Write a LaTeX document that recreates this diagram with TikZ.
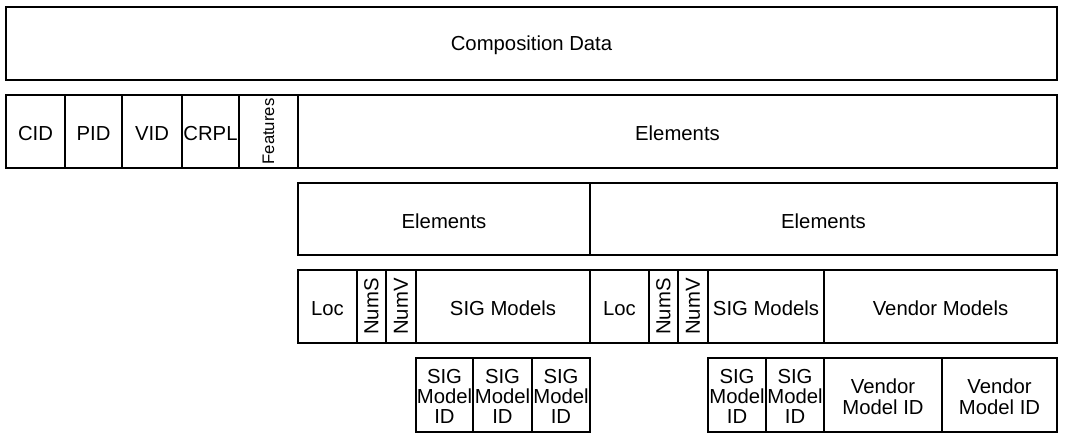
\documentclass[tikz,border=0pt]{standalone}
\usepackage{fontspec}
\setmainfont{Liberation Sans}
\newcommand\mycell[6]{%
  \node[cell, minimum width={(#4-#2)*1pt}, minimum height={(#5-#3)*1pt},
    label={[lab]center:{#6}}] (#1) at ({(#2+#4)/2},{(#3+#5)/2}) {};}
\newcommand\myrcell[6]{%
  \node[cell, minimum width={(#4-#2)*1pt}, minimum height={(#5-#3)*1pt},
    label={[rlab]center:{#6}}] (#1) at ({(#2+#4)/2},{(#3+#5)/2}) {};}
\begin{document}
\begin{tikzpicture}[x=1pt,y=-1pt,
  cell/.style={draw=black, line width=1.2pt, inner sep=0pt, outer sep=0pt, rectangle},
  lab/.style={inner sep=0pt, align=center, yshift=-1.8pt, font=\fontsize{20.3}{20}\selectfont},
  rlab/.style={inner sep=0pt, align=center, font=\fontsize{20.3}{20}\selectfont}]
\useasboundingbox (0,0) rectangle (1066,439);
% row 1
\mycell{comp}{6}{7}{1057}{80}{Composition Data}
% row 2
\mycell{cid}{6}{95}{65}{168}{CID}
\mycell{pid}{65}{95}{122}{168}{PID}
\mycell{vid}{122}{95}{182}{168}{VID}
\mycell{crpl}{182}{95}{239}{168}{CRPL}
\myrcell{feat}{239}{95}{298}{168}{\fontsize{16.7}{18}\selectfont\rotatebox{90}{Features}}
\mycell{elems}{298}{95}{1057}{168}{Elements}
% row 3
\mycell{elA}{298}{183}{590}{255}{Elements}
\mycell{elB}{590}{183}{1057}{255}{Elements}
% row 4
\mycell{locA}{298}{270}{357}{343}{Loc}
\myrcell{numsA}{357}{270}{386}{343}{\rotatebox{90}{NumS}}
\myrcell{numvA}{386}{270}{416}{343}{\rotatebox{90}{NumV}}
\mycell{sigA}{416}{270}{590}{343}{SIG Models}
\mycell{locB}{590}{270}{649}{343}{Loc}
\myrcell{numsB}{649}{270}{678}{343}{\rotatebox{90}{NumS}}
\myrcell{numvB}{678}{270}{708}{343}{\rotatebox{90}{NumV}}
\mycell{sigB}{708}{270}{824}{343}{SIG Models}
\mycell{vendB}{824}{270}{1057}{343}{Vendor Models}
% row 5
\mycell{sidA1}{416}{358}{473}{432}{SIG\\Model\\ID}
\mycell{sidA2}{473}{358}{532}{432}{SIG\\Model\\ID}
\mycell{sidA3}{532}{358}{590}{432}{SIG\\Model\\ID}
\mycell{sidB1}{708}{358}{766}{432}{SIG\\Model\\ID}
\mycell{sidB2}{766}{358}{824}{432}{SIG\\Model\\ID}
\mycell{vidB1}{824}{358}{942}{432}{Vendor\\[1pt]Model ID}
\mycell{vidB2}{942}{358}{1057}{432}{Vendor\\[1pt]Model ID}
\end{tikzpicture}
\end{document}
